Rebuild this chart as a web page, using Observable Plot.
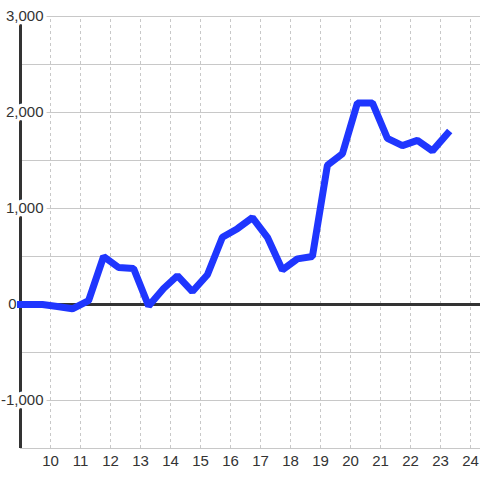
<!DOCTYPE html>
<html><head><meta charset="utf-8">
<script src="https://cdn.jsdelivr.net/npm/d3@7"></script>
<script src="https://cdn.jsdelivr.net/npm/@observablehq/plot@0.6"></script>
<style>body{margin:0;background:#fff}</style>
</head><body><div id="chart"></div>
<script>
const xValues = [9.0, 9.73, 10.23, 10.73, 11.27, 11.77, 12.27, 12.77, 13.27, 13.77, 14.23, 14.73, 15.23, 15.73, 16.23, 16.73, 17.23, 17.73, 18.23, 18.73, 19.23, 19.73, 20.23, 20.73, 21.23, 21.73, 22.23, 22.73, 23.23];
const yValues = [0, 0, -20, -45, 40, 500, 385, 375, -15, 167, 300, 135, 310, 700, 790, 905, 700, 360, 475, 500, 1450, 1570, 2100, 2100, 1730, 1655, 1710, 1600, 1780];
const xTicks = [10, 11, 12, 13, 14, 15, 16, 17, 18, 19, 20, 21, 22, 23, 24];
const yGrid = [-1500, -1000, -500, 0, 500, 1000, 1500, 2000, 2500, 3000];
const yTicks = [-1000, 0, 1000, 2000, 3000];
const yTickLabels = ["-1,000", "0", "1,000", "2,000", "3,000"];

const data = xValues.map((x, i) => ({x, y: yValues[i]}));
const yLab = yTicks.map((v, i) => ({v, t: yTickLabels[i]}));

const chart = Plot.plot({
  width: 480, height: 480,
  marginLeft: 20, marginRight: 0, marginTop: 16, marginBottom: 32,
  x: {domain: [9, 24.333], axis: null},
  y: {domain: [-1500, 3000], axis: null},
  style: {fontFamily: "'Liberation Sans', Arial, sans-serif", fontSize: "15px", background: "#fff"},
  marks: [
    Plot.ruleX(xTicks, {x: d => d, y1: -1500, y2: 3000, stroke: "#c8c8c8", strokeDasharray: "3,3"}),
    Plot.ruleY(yGrid, {y: d => d, x1: 9, x2: 24.333, stroke: "#c8c8c8"}),
    Plot.ruleY([0], {y: d => d, x1: 9, x2: 24.333, stroke: "#333", strokeWidth: 3}),
    Plot.ruleX([9], {x: d => d, y1: -1500, y2: 3000, stroke: "#333", strokeWidth: 3}),
    Plot.text(yLab.filter(d => d.v !== 0), {x: 9, y: "v", text: "t", textAnchor: "end", dx: 23, fill: "#333", stroke: "white", strokeWidth: 7}),
    Plot.text(yLab.filter(d => d.v === 0), {x: 9, y: "v", text: "t", textAnchor: "end", dx: -4, fill: "#333"}),
    Plot.line(data, {x: "x", y: "y", stroke: "#1f36fe", strokeWidth: 7, strokeLinecap: "square", strokeLinejoin: "miter"}),
    Plot.text(xTicks, {x: d => d, y: -1500, dy: 13, text: d => String(d), fill: "#333"})
  ]
});
document.getElementById("chart").appendChild(chart);
</script>
</body></html>
